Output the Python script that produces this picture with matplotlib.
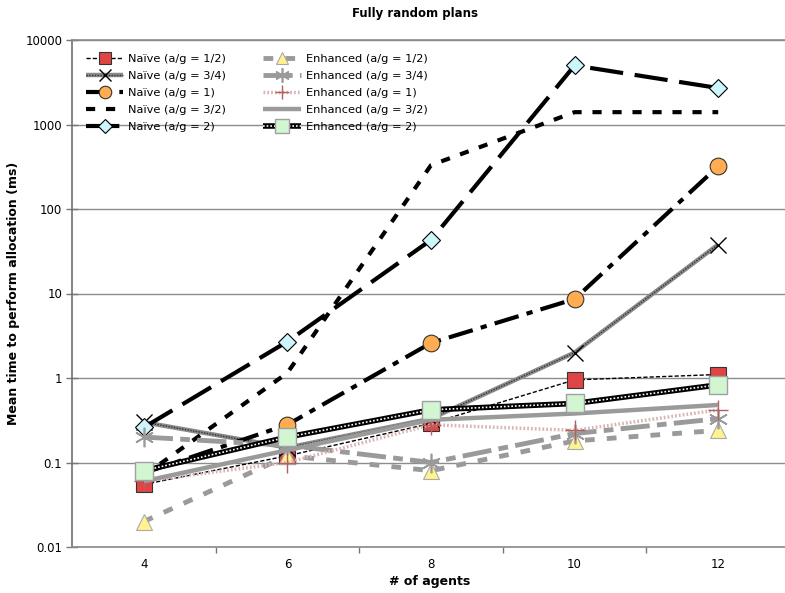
import matplotlib
matplotlib.use("Agg")
import matplotlib.pyplot as plt
from matplotlib.lines import Line2D
from matplotlib.legend_handler import HandlerTuple
from matplotlib.ticker import FixedLocator, FixedFormatter, NullFormatter

plt.rcParams['font.family'] = ['DejaVu Sans']

agents = ["4", "6", "8", "10", "12"]

naive_half = [0.055, 0.12, 0.29, 0.95, 1.1]
naive_3q = [0.30, 0.15, 0.33, 2.0, 38]
naive_one = [0.075, 0.28, 2.6, 8.6, 320]
naive_3h = [0.07, 1.15, 330, 1400, 1400]
naive_two = [0.26, 2.7, 43, 5000, 2700]
enh_half = [0.02, 0.12, 0.08, 0.18, 0.24]
enh_3q = [0.2, 0.16, 0.1, 0.22, 0.33]
enh_one = [0.06, 0.1, 0.28, 0.24, 0.42]
enh_3h = [0.06, 0.14, 0.32, 0.38, 0.48]
enh_two = [0.08, 0.2, 0.42, 0.5, 0.83]

y_ticks = [0.01, 0.1, 1, 10, 100, 1000, 10000]
y_labels = ["0.01", "0.1", "1", "10", "100", "1000", "10000"]

W, H = 785, 593
fig = plt.figure(figsize=(W / 100, H / 100), dpi=100)
ax = fig.add_axes([72 / W, (H - 547) / H, 718 / W, 507 / H])

x = list(range(len(agents)))
GRAY = '#9a9a9a'

def draw(vals, layers, marker=None):
    """Draw a series as stacked line layers plus an optional marker layer."""
    handles = []
    for kw in layers:
        ax.plot(x, vals, **kw)
        handles.append(Line2D([], [], **kw))
    if marker is not None:
        ax.plot(x, vals, linestyle='none', **marker)
        handles.append(Line2D([], [], linestyle='none', **marker))
    return tuple(handles)

h = []
# Naive (a/g = 1/2)
h.append(draw(naive_half,
              [dict(color='black', lw=1.0, linestyle=(0, (3, 1.5)))],
              dict(marker='s', ms=11, mfc='#e04545', mec='#333333', mew=0.8)))
# Naive (a/g = 3/4)
h.append(draw(naive_3q,
              [dict(color='#8a8a8a', lw=3.2, solid_capstyle='butt'),
               dict(color='#333333', lw=1.0, linestyle=(0, (1, 1)))],
              dict(marker='x', ms=12, mec='black', mew=1.0)))
# Naive (a/g = 1)
h.append(draw(naive_one,
              [dict(color='black', lw=3.0, linestyle=(0, (6, 2, 1.5, 2)))],
              dict(marker='o', ms=12, mfc='#ffad50', mec='#333333', mew=0.8)))
# Naive (a/g = 3/2)
h.append(draw(naive_3h,
              [dict(color='black', lw=3.0, linestyle=(0, (2.2, 2.6)))]))
# Naive (a/g = 2)
h.append(draw(naive_two,
              [dict(color='black', lw=3.0, linestyle=(0, (8, 2.8)))],
              dict(marker='D', ms=9, mfc='#ccf6fb', mec='black', mew=0.8)))
# Enhanced (a/g = 1/2)
h.append(draw(enh_half,
              [dict(color=GRAY, lw=3.5, linestyle=(0, (2, 2.5)))],
              dict(marker='^', ms=12, mfc='#fff28f', mec='#aaaaaa', mew=0.8)))
# Enhanced (a/g = 3/4)
h.append(draw(enh_3q,
              [dict(color=GRAY, lw=3.5, linestyle=(0, (6, 1.5, 2, 1.5)))],
              dict(marker=(6, 2, 0), ms=14, mec=GRAY, mew=1.2)))
# Enhanced (a/g = 1)
h.append(draw(enh_one,
              [dict(color='#d8b4b4', lw=2.5, linestyle=(0, (0.5, 0.6)))],
              dict(marker='+', ms=14, mec='#b06060', mew=1.0)))
# Enhanced (a/g = 3/2)
h.append(draw(enh_3h,
              [dict(color=GRAY, lw=3.2, solid_capstyle='butt')]))
# Enhanced (a/g = 2)
h.append(draw(enh_two,
              [dict(color='black', lw=4.0, solid_capstyle='butt'),
               dict(color='white', lw=1.2, linestyle=(0, (1, 1.2)))],
              dict(marker='s', ms=13, mfc='#d2f5d2', mec='#a0a0a0', mew=1.0)))

labels = ["Naïve (a/g = 1/2)", "Naïve (a/g = 3/4)", "Naïve (a/g = 1)",
          "Naïve (a/g = 3/2)", "Naïve (a/g = 2)",
          "Enhanced (a/g = 1/2)", "Enhanced (a/g = 3/4)", "Enhanced (a/g = 1)",
          "Enhanced (a/g = 3/2)", "Enhanced (a/g = 2)"]

leg = ax.legend(h, labels, handler_map={tuple: HandlerTuple(ndivide=1)},
                ncol=2, loc='upper left', bbox_to_anchor=(0.005, 0.993),
                frameon=False, fontsize=8.2, handlelength=3.3,
                handletextpad=0.4, columnspacing=3.3, labelspacing=0.62,
                markerscale=0.75)

ax.set_yscale('log')
ax.set_ylim(0.01, 10000)
ax.set_xlim(-0.5, len(agents) - 0.5)

ax.yaxis.set_major_locator(FixedLocator(y_ticks))
ax.yaxis.set_major_formatter(FixedFormatter(y_labels))
ax.yaxis.set_minor_locator(FixedLocator([]))
ax.yaxis.set_minor_formatter(NullFormatter())
ax.tick_params(axis='y', which='major', direction='inout', length=8,
               width=1, color='#777777', labelsize=8.5, pad=3)

ax.set_xticks(x)
ax.set_xticklabels(agents)
ax.set_xticks([i + 0.5 for i in x[:-1]], minor=True)
ax.tick_params(axis='x', which='major', length=0, labelsize=8.5, pad=8)
ax.tick_params(axis='x', which='minor', direction='out', length=4,
               width=1, color='#777777')

ax.grid(True, axis='y', which='major', color='#8c8c8c', lw=1.0)
ax.set_axisbelow(True)

for side in ('left', 'bottom', 'top'):
    ax.spines[side].set_color('#8a8a8a')
    ax.spines[side].set_linewidth(1.2)
ax.spines['left'].set_color('#707070')
ax.spines['right'].set_visible(False)

fig.text(415 / W, 1 - 14 / H, "Fully random plans", ha='center', va='center',
         fontsize=8.5, fontweight='bold')
fig.text(14 / W, 1 - 293 / H, "Mean time to perform allocation (ms)",
         rotation=90, ha='center', va='center', fontsize=9, fontweight='bold')
fig.text(430 / W, 1 - 581 / H, "# of agents", ha='center', va='center',
         fontsize=9, fontweight='bold')

fig.savefig("out.png", dpi=100)
